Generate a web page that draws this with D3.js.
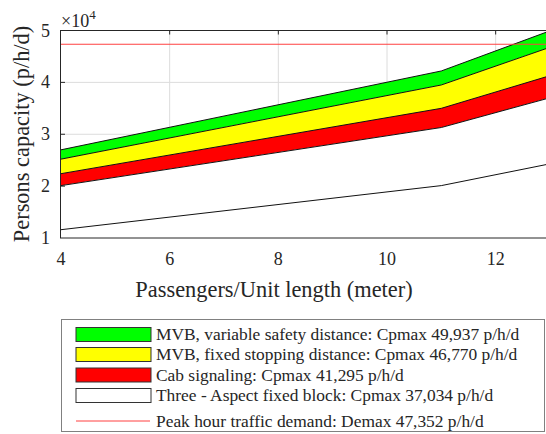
<!DOCTYPE html>
<html><head><meta charset="utf-8">
<script src="https://cdn.jsdelivr.net/npm/d3@7"></script>
<style>body{margin:0;background:#fff}svg{display:block}</style>
</head><body><svg id="c" width="546" height="434"></svg>
<script>
// Data (values in units of 10^4 p/h/d)
const xs = [4, 11, 13];
const variableSafety = [2.70, 4.22, 4.9937];   // green top
const fixedStopping  = [2.52, 3.95, 4.6770];   // yellow top
const cabSignal      = [2.24, 3.50, 4.1295];   // red top
const threeAspect    = [2.01, 3.13, 3.7034];   // white top
const baseLine       = [1.16, 2.01, 2.43];     // lowest line
const demand = 4.7352;
const xTicks = [4, 6, 8, 10, 12];
const yTicks = [1, 2, 3, 4, 5];
const legendLabels = [
  "MVB, variable safety distance: Cpmax 49,937 p/h/d",
  "MVB, fixed stopping distance: Cpmax 46,770 p/h/d",
  "Cab signaling: Cpmax 41,295 p/h/d",
  "Three - Aspect fixed block: Cpmax 37,034 p/h/d",
  "Peak hour traffic demand: Demax 47,352 p/h/d"
];
const bandColors = ["#00ff00", "#ffff00", "#ff0000", "#ffffff"];

const FONT = "Liberation Serif";
const svg = d3.select("#c");
const x = d3.scaleLinear().domain([4, 13]).range([61, 550]);
const y = d3.scaleLinear().domain([1, 5]).range([238, 30.5]);
const axCol = "#262626";
const txtCol = "#262626";

// grid
const g = svg.append("g");
g.selectAll(".vg").data(xTicks.slice(1)).enter().append("line")
  .attr("x1", d => x(d)).attr("x2", d => x(d)).attr("y1", y(1)).attr("y2", y(5))
  .attr("stroke", "#dcdcdc").attr("stroke-width", 1);
g.selectAll(".hg").data(yTicks.slice(1, 4)).enter().append("line")
  .attr("x1", x(4)).attr("x2", x(13)).attr("y1", d => y(d)).attr("y2", d => y(d))
  .attr("stroke", "#dcdcdc").attr("stroke-width", 1);

// bands
const bands = [
  [variableSafety, fixedStopping],
  [fixedStopping, cabSignal],
  [cabSignal, threeAspect],
  [threeAspect, xs.map(() => 1)]
];
const area = d3.area().x(d => x(d.x)).y0(d => y(d.lo)).y1(d => y(d.hi));
bands.forEach((b, i) => {
  const pts = xs.map((xv, k) => ({x: xv, hi: b[0][k], lo: b[1][k]}));
  svg.append("path").attr("d", area(pts)).attr("fill", bandColors[i]).attr("stroke", "none");
});
const line = d3.line().x(d => x(d[0])).y(d => y(d[1]));
[variableSafety, fixedStopping, cabSignal, threeAspect, baseLine].forEach(s => {
  svg.append("path").attr("d", line(xs.map((xv, k) => [xv, s[k]])))
    .attr("fill", "none").attr("stroke", "#111").attr("stroke-width", 1);
});

// demand line
svg.append("line").attr("x1", x(4)).attr("x2", x(13)).attr("y1", y(demand)).attr("y2", y(demand))
  .attr("stroke", "#ff4040").attr("stroke-width", 1.2);

// axes box
svg.append("line").attr("x1", x(4) - 0.5).attr("x2", x(4) - 0.5).attr("y1", y(5)).attr("y2", y(1))
  .attr("stroke", axCol).attr("stroke-width", 1);
svg.append("line").attr("x1", x(4) - 1).attr("x2", x(13)).attr("y1", y(5)).attr("y2", y(5))
  .attr("stroke", axCol).attr("stroke-width", 1);
svg.append("line").attr("x1", x(4) - 1).attr("x2", x(13)).attr("y1", y(1)).attr("y2", y(1))
  .attr("stroke", axCol).attr("stroke-width", 1);
// ticks (top and left, inward)
svg.selectAll(".tt").data(xTicks.slice(1)).enter().append("line")
  .attr("x1", d => x(d)).attr("x2", d => x(d)).attr("y1", y(5)).attr("y2", y(5) + 4)
  .attr("stroke", axCol);
svg.selectAll(".lt").data(yTicks.slice(1, 4)).enter().append("line")
  .attr("x1", x(4)).attr("x2", x(4) + 4).attr("y1", d => y(d)).attr("y2", d => y(d))
  .attr("stroke", axCol);

// tick labels
svg.selectAll(".xl").data(xTicks).enter().append("text")
  .attr("x", d => x(d)).attr("y", 265).attr("text-anchor", "middle").attr("fill", txtCol)
  .attr("font-family", FONT).attr("font-size", 18).text(d => d);
svg.selectAll(".yl").data(yTicks).enter().append("text")
  .attr("x", 50).attr("y", d => y(d) + 6).attr("text-anchor", "end").attr("fill", txtCol)
  .attr("font-family", FONT).attr("font-size", 18).text(d => d);
// exponent
const ex = svg.append("text").attr("x", 61).attr("y", 27).attr("font-size", 18)
  .attr("font-family", FONT).attr("fill", txtCol);
ex.append("tspan").attr("font-family", FONT).text("\u00d710");
ex.append("tspan").attr("font-family", FONT).attr("font-size", 13).attr("dy", -8).text("4");

// axis labels
svg.append("text").attr("x", 274).attr("y", 297).attr("text-anchor", "middle").attr("fill", txtCol)
  .attr("font-family", FONT).attr("font-size", 22.4).text("Passengers/Unit length (meter)");
svg.append("text").attr("transform", "translate(29,134) rotate(-90)").attr("text-anchor", "middle").attr("fill", txtCol)
  .attr("font-family", FONT).attr("font-size", 22.4).text("Persons capacity (p/h/d)");

// legend
const lg = svg.append("g");
lg.append("rect").attr("x", 61.5).attr("y", 319.5).attr("width", 483).attr("height", 112)
  .attr("fill", "#fff").attr("stroke", "#808080").attr("stroke-width", 1);
const rowY = [334.5, 354.5, 375, 395.5, 421];
legendLabels.forEach((t, i) => {
  if (i < 4) {
    lg.append("rect").attr("x", 76).attr("y", rowY[i] - 7).attr("width", 75).attr("height", 14)
      .attr("fill", bandColors[i]).attr("stroke", "#333").attr("stroke-width", 1);
  } else {
    lg.append("line").attr("x1", 76).attr("x2", 150).attr("y1", rowY[i]).attr("y2", rowY[i])
      .attr("stroke", "#ff4040").attr("stroke-width", 1);
  }
  lg.append("text").attr("x", 156).attr("y", rowY[i] + 5.5).attr("font-size", 17.4)
    .attr("font-family", FONT).attr("fill", txtCol).text(t);
});
</script></body></html>
